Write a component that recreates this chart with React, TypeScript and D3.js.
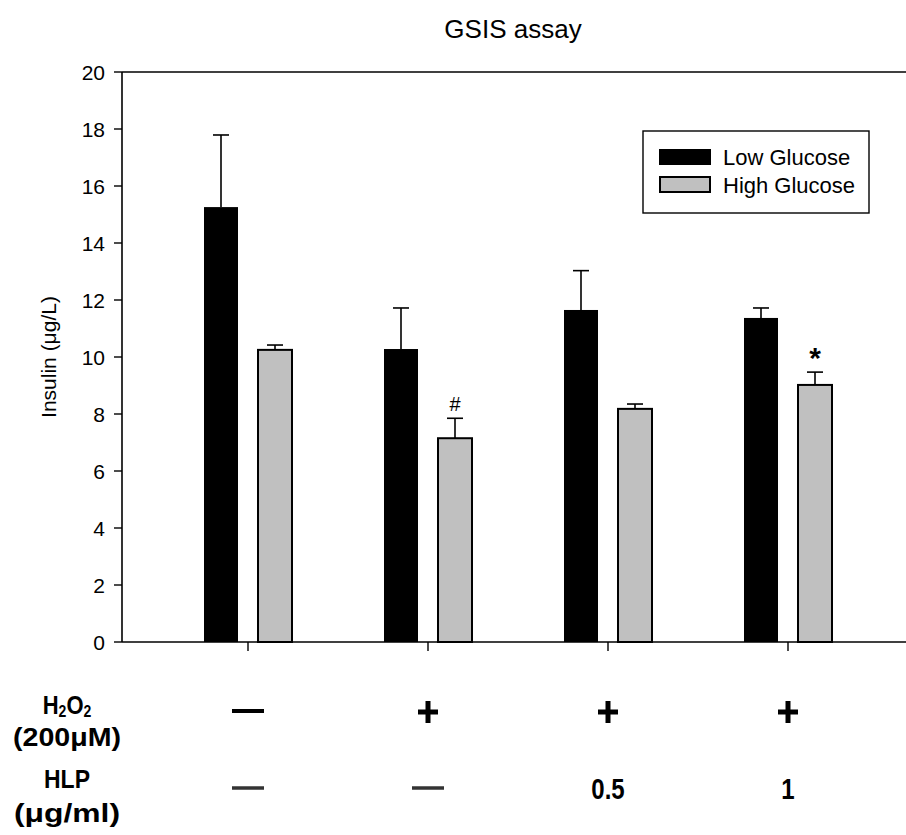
import React from "react";
import * as d3 from "d3";

// Treatment groups along the x axis
const groups = ["ctrl", "h2o2", "hlp05", "hlp1"];
// Insulin secretion (μg/L) under low and high glucose
const lowGlucose = [15.26, 10.28, 11.65, 11.37];
const lowGlucoseErr = [2.53, 1.44, 1.38, 0.35];
const highGlucose = [10.25, 7.15, 8.18, 9.02];
const highGlucoseErr = [0.17, 0.7, 0.17, 0.45];
// Significance markers above the high-glucose bars
const highMarks = ["", "#", "", "*"];
// Treatment rows under the axis
const h2o2Row = ["—", "+", "+", "+"];
const hlpRow = ["—", "—", "0.5", "1"];
const yTicks = [0, 2, 4, 6, 8, 10, 12, 14, 16, 18, 20];

const W = 906;
const H = 835;
const plot = { left: 122, right: 906, top: 72, bottom: 642 };
const FONT = "'Liberation Sans', Arial, Helvetica, sans-serif";

// Bold label stretched vertically, as in the treatment table
function TallText(props: {
  x: number;
  y: number;
  children: React.ReactNode;
  size?: number;
  width?: number;
  stretch?: number;
}) {
  const { x, y, children, size = 24, width, stretch = 1.2 } = props;
  return (
    <text
      transform={`translate(${x},${y}) scale(1,${stretch})`}
      textAnchor="middle"
      fontWeight="bold"
      fontSize={size}
      textLength={width}
      lengthAdjust={width ? "spacingAndGlyphs" : undefined}
    >
      {children}
    </text>
  );
}

export default function App() {
  const y = d3.scaleLinear().domain([0, 20]).range([plot.bottom, plot.top]);
  const x = d3.scalePoint<string>().domain(groups).range([248, 788]);
  const barW = 34;
  const gap = 10;
  const capW = 16;

  const errorBar = (cx: number, v: number, e: number, key: string) => (
    <g key={key} stroke="#000" strokeWidth={1.6}>
      <line x1={cx} x2={cx} y1={y(v)} y2={y(v + e)} />
      <line x1={cx - capW / 2} x2={cx + capW / 2} y1={y(v + e)} y2={y(v + e)} />
    </g>
  );

  return (
    <svg
      width={W}
      height={H}
      style={{ position: "absolute", left: 0, top: 0, background: "#fff" }}
      fontFamily={FONT}
    >
      <text x={513} y={38} textAnchor="middle" fontSize={26}>
        GSIS assay
      </text>

      {/* frame: top and left lines, x axis */}
      <line x1={plot.left} x2={plot.right} y1={plot.top} y2={plot.top} stroke="#000" strokeWidth={1.6} />
      <line x1={plot.left} x2={plot.left} y1={plot.top} y2={plot.bottom} stroke="#000" strokeWidth={1.6} />
      <line x1={plot.left} x2={plot.right} y1={plot.bottom} y2={plot.bottom} stroke="#000" strokeWidth={1.6} />

      {/* y axis ticks */}
      {yTicks.map((t) => (
        <g key={t}>
          <line x1={plot.left - 8} x2={plot.left} y1={y(t)} y2={y(t)} stroke="#000" strokeWidth={1.4} />
          <text x={105} y={y(t)} dy="0.36em" textAnchor="end" fontSize={21}>
            {t}
          </text>
        </g>
      ))}
      <text
        transform={`translate(56,${(plot.top + plot.bottom) / 2}) rotate(-90)`}
        textAnchor="middle"
        fontSize={21}
      >
        Insulin (μg/L)
      </text>

      {/* x axis ticks */}
      {groups.map((g) => (
        <line key={g} x1={x(g)!} x2={x(g)!} y1={plot.bottom} y2={plot.bottom + 9} stroke="#000" strokeWidth={1.4} />
      ))}

      {/* bars */}
      {groups.map((g, i) => {
        const c = x(g)!;
        const lx = c - gap - barW;
        const hx = c + gap;
        const markY = y(highGlucose[i] + highGlucoseErr[i]);
        return (
          <g key={g}>
            {errorBar(lx + barW / 2, lowGlucose[i], lowGlucoseErr[i], "le")}
            {errorBar(hx + barW / 2, highGlucose[i], highGlucoseErr[i], "he")}
            <rect x={lx} y={y(lowGlucose[i])} width={barW} height={y(0) - y(lowGlucose[i])} fill="#000" />
            <rect
              x={hx}
              y={y(highGlucose[i])}
              width={barW}
              height={y(0) - y(highGlucose[i])}
              fill="#c0c0c0"
              stroke="#000"
              strokeWidth={2}
            />
            {highMarks[i] === "#" && (
              <text x={hx + barW / 2} y={markY - 7} textAnchor="middle" fontSize={20}>
                #
              </text>
            )}
            {highMarks[i] === "*" && (
              <text x={hx + barW / 2} y={markY - 4} textAnchor="middle" fontSize={30} fontWeight="bold">
                *
              </text>
            )}
          </g>
        );
      })}

      {/* legend */}
      <rect x={643} y={131} width={226} height={82} fill="#fff" stroke="#000" strokeWidth={1.4} />
      <rect x={659} y={149} width={52} height={16} fill="#000" />
      <rect x={660} y={177} width={50} height={15} fill="#c0c0c0" stroke="#000" strokeWidth={2} />
      <text x={723} y={165} fontSize={22}>
        Low Glucose
      </text>
      <text x={723} y={193} fontSize={22}>
        High Glucose
      </text>

      {/* treatment table */}
      <text transform="translate(67,714) scale(1,1.15)" textAnchor="middle" fontWeight="bold" fontSize={22}>
        H
        <tspan fontSize={14} dy={3}>2</tspan>
        <tspan dy={-3}>O</tspan>
        <tspan fontSize={14} dy={3}>2</tspan>
      </text>
      <TallText x={67} y={746} size={22} width={108} stretch={1.15}>(200μM)</TallText>
      <TallText x={67} y={788} size={23} stretch={1.15}>HLP</TallText>
      <TallText x={67} y={822} size={22} width={106} stretch={1.15}>(μg/ml)</TallText>
      {groups.map((g, i) => {
        const c = x(g)!;
        return (
          <g key={g}>
            {h2o2Row[i] === "+" ? (
              <g stroke="#000" strokeWidth={5}>
                <line x1={c - 10} x2={c + 10} y1={712} y2={712} />
                <line x1={c} x2={c} y1={701} y2={723} />
              </g>
            ) : (
              <line x1={c - 16} x2={c + 16} y1={711} y2={711} stroke="#000" strokeWidth={4} />
            )}
            {hlpRow[i] === "—" ? (
              <line x1={c - 16} x2={c + 16} y1={788} y2={788} stroke="#333" strokeWidth={3.5} />
            ) : (
              <TallText x={c} y={799} size={24}>{hlpRow[i]}</TallText>
            )}
          </g>
        );
      })}
    </svg>
  );
}
